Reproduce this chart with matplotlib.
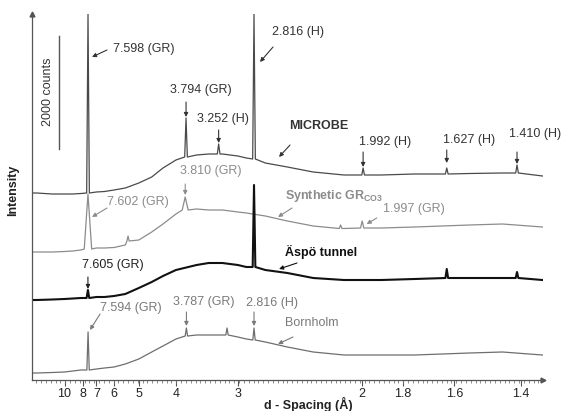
import numpy as np
import matplotlib.pyplot as plt

plt.rcParams['font.family'] = ['Liberation Sans', 'DejaVu Sans']
plt.rcParams['mathtext.fontset'] = 'custom'
plt.rcParams['mathtext.rm'] = 'Liberation Sans'
plt.rcParams['mathtext.bf'] = 'Liberation Sans:bold'

# d-spacing (A) where the backgrounds were read, left to right
d_grid = [17.4, 16, 12, 10, 9, 8.2, 7.0, 6.5, 6.0, 5.5, 5.0, 4.6, 4.3, 4.0,
          3.6, 3.4, 3.2, 3.0, 2.9, 2.7, 2.5, 2.3, 2.1, 1.9, 1.75, 1.55, 1.45, 1.345]

# background intensity (a.u., offset patterns)
microbe = [187, 187, 186, 186, 186, 186.5, 188, 188.5, 190, 192, 197, 203, 212, 220,
           225, 226, 226, 224, 222, 217, 213, 208, 205, 205, 206, 206.5, 207, 204]
synthetic = [128, 128, 128, 128.5, 129, 130, 132, 132, 132.5, 135, 140, 148, 156, 166,
             171, 170, 170, 168, 167, 164, 159, 154, 151.5, 152, 153, 155, 156, 153]
aspo = [80, 80, 80.5, 81, 81.5, 82, 83, 83, 84, 86, 92, 98, 104, 110,
        115, 117, 117, 115, 113, 110, 107, 102, 100, 100, 101, 102, 102, 100]
bornholm = [7, 7, 7.5, 8, 9, 10, 11, 12, 13, 16, 21, 28, 34, 41,
            45, 45, 45, 43, 41, 38, 33, 28, 25, 25, 25, 27, 28, 25]

# peaks: position (A), top and foot intensity
microbe_pk_d = [7.598, 3.794, 3.252, 2.816, 1.992, 1.627, 1.410]
microbe_pk_top = [366, 262, 236, 366, 212, 212, 215]
microbe_pk_base = [187, 223, 226, 221, 205, 206, 207]

synthetic_pk_d = [7.602, 5.39, 3.810, 2.12, 1.997]
synthetic_pk_top = [186, 144, 183, 155, 159]
synthetic_pk_base = [131, 139, 170, 151.5, 152]

aspo_pk_d = [7.605, 2.816, 1.627, 1.410]
aspo_pk_top = [90, 195, 111, 108]
aspo_pk_base = [82, 113, 102, 102]

bornholm_pk_d = [7.594, 3.787, 3.137, 2.816]
bornholm_pk_top = [48, 52, 52, 52]
bornholm_pk_base = [10, 44, 45, 40]

tick_d = [10, 8, 7, 6, 5, 4, 3, 2, 1.8, 1.6, 1.4]
counts_per_unit = 17.7   # 2000 counts bar
scale_counts = 2000


def pattern(bg, pk_d, pk_top, pk_base, widths):
    """Join background and peaks into one curve along 1/d."""
    u = list(1.0 / np.array(d_grid))
    y = list(bg)
    for d, t, b, w in zip(pk_d, pk_top, pk_base, widths):
        c = 1.0 / d
        u += [c - w, c, c + w]
        y += [b, t, b]
    order = np.argsort(u)
    return np.array(u)[order], np.array(y)[order]


fig = plt.figure(figsize=(5.66, 4.11), dpi=100)
ax = fig.add_axes([32 / 566, 31 / 411, 511 / 566, 366 / 411])

curves = [
    (microbe, microbe_pk_d, microbe_pk_top, microbe_pk_base, [0.0018] * 7, '#4a4a4a', 0.9),
    (synthetic, synthetic_pk_d, synthetic_pk_top, synthetic_pk_base,
     [0.005, 0.0015, 0.004, 0.0018, 0.0022], '#8c8c8c', 0.9),
    (aspo, aspo_pk_d, aspo_pk_top, aspo_pk_base, [0.0018] * 4, '#111111', 1.5),
    (bornholm, bornholm_pk_d, bornholm_pk_top, bornholm_pk_base, [0.0016] * 4, '#6e6e6e', 0.9),
]
for bg, pd_, pt, pb, w, col, lw in curves:
    u, y = pattern(bg, pd_, pt, pb, w)
    ax.plot(u, y, color=col, lw=lw)

# scale bar
bar_u = 0.0926
ax.plot([bar_u, bar_u], [231, 231 + scale_counts / counts_per_unit], color='#555555', lw=1)
ax.text(0.0778, 288, f'{scale_counts} counts', rotation=90, ha='center', va='center',
        fontsize=9, color='#333333')

# labels: text, x(1/d), y, ha, colour, weight, arrow tail, arrow head
c_mic, c_syn, c_asp, c_bor = '#333333', '#8c8c8c', '#111111', '#7a7a7a'
labels = [
    ('7.598 (GR)', 0.1653, 331, 'left', c_mic, 'normal', (0.1572, 330), (0.1370, 323)),
    ('3.794 (GR)', 0.2837, 290, 'center', c_mic, 'normal', (0.2636, 278), (0.2636, 263)),
    ('3.252 (H)', 0.3127, 261, 'center', c_mic, 'normal', (0.3075, 250), (0.3075, 237)),
    ('2.816 (H)', 0.4150, 348, 'center', c_mic, 'normal', (0.3807, 333), (0.3632, 318)),
    ('MICROBE', 0.4420, 254, 'center', c_mic, 'bold', (0.4036, 235), (0.3888, 223)),
    ('1.992 (H)', 0.5322, 238, 'center', c_mic, 'normal', (0.5020, 228), (0.5020, 213)),
    ('1.627 (H)', 0.6446, 240, 'center', c_mic, 'normal', (0.6146, 230), (0.6146, 217)),
    ('1.410 (H)', 0.7335, 246, 'center', c_mic, 'normal', (0.7092, 228), (0.7092, 216)),
    ('3.810 (GR)', 0.2972, 209, 'center', c_syn, 'normal', (0.2625, 196), (0.2625, 185)),
    ('7.602 (GR)', 0.1572, 178, 'left', c_syn, 'normal', (0.1572, 172), (0.1370, 163)),
    (r'Synthetic GR$_{\mathbf{CO3}}$', 0.3968, 184, 'left', c_syn, 'bold', (0.4063, 172), (0.3874, 163)),
    ('1.997 (GR)', 0.5288, 171, 'left', c_syn, 'normal', (0.5203, 162), (0.5068, 156)),
    ('Äspö tunnel', 0.3968, 128, 'left', c_asp, 'bold', (0.4130, 117), (0.3888, 111)),
    ('7.605 (GR)', 0.1646, 115, 'center', '#222222', 'normal', (0.1315, 103), (0.1315, 91)),
    ('7.594 (GR)', 0.1478, 72, 'left', c_bor, 'normal', (0.1478, 66), (0.1343, 50)),
    ('3.787 (GR)', 0.2878, 78, 'center', c_bor, 'normal', (0.2641, 68), (0.2641, 54)),
    ('2.816 (H)', 0.3800, 77, 'center', c_bor, 'normal', (0.3551, 68), (0.3551, 54)),
    ('Bornholm', 0.3968, 57, 'left', c_bor, 'normal', (0.4076, 43), (0.3874, 36)),
]
for txt, x, y, ha, col, wt, tail, head in labels:
    ax.text(x, y, txt, ha=ha, va='center', fontsize=9, color=col, fontweight=wt, clip_on=False)
    ax.annotate('', xy=head, xytext=tail,
                arrowprops=dict(arrowstyle='-|>', color=col, lw=0.8, mutation_scale=6,
                                shrinkA=0, shrinkB=0))

ax.set_xlim(0.0562, 0.7442)
ax.set_ylim(0, 366)
for s in ['top', 'right']:
    ax.spines[s].set_visible(False)
for s in ['left', 'bottom']:
    ax.spines[s].set_color('#555555')
    ax.spines[s].set_linewidth(0.9)
ax.plot([0], [1], marker='^', ms=3.5, color='#555555', transform=ax.transAxes, clip_on=False)
ax.plot([1], [0], marker='>', ms=3.5, color='#555555', transform=ax.transAxes, clip_on=False)

ax.set_xticks([1.0 / d for d in tick_d])
ax.set_xticklabels([str(d) for d in tick_d])
ax.set_xticks(np.arange(0.062, 0.744, 0.0065), minor=True)
ax.set_yticks([])
ax.tick_params(axis='x', which='major', length=4, width=0.8, color='#555555',
               labelsize=9, labelcolor='#222222', pad=2)
ax.tick_params(axis='x', which='minor', length=2, width=0.6, color='#777777')

ax.set_xlabel('d - Spacing (Å)', fontsize=9, fontweight='bold', color='#222222', va='center')
ax.xaxis.set_label_coords(0.540, -0.066)
ax.set_ylabel('Intensity', fontsize=9, fontweight='bold', color='#222222')
ax.yaxis.set_label_coords(-0.026, 0.519)

fig.savefig('out.png', dpi=100)
